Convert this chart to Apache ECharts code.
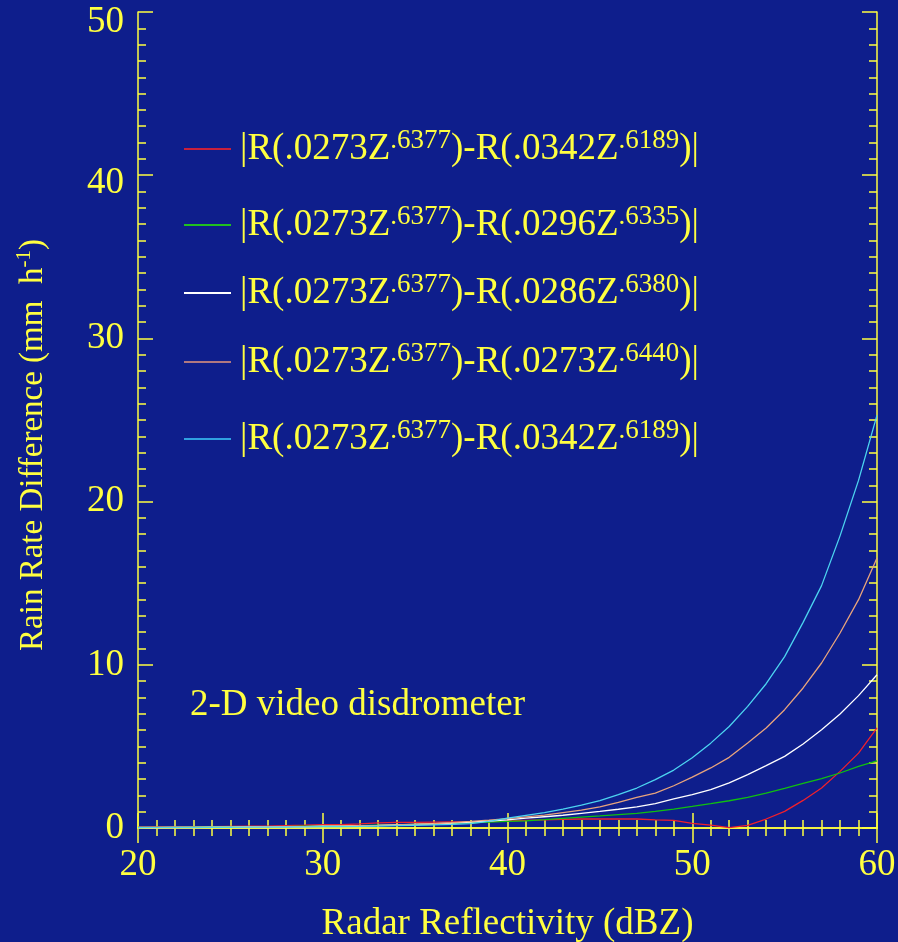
<!DOCTYPE html>
<html>
<head>
<meta charset="utf-8">
<script src="https://cdn.jsdelivr.net/npm/echarts@6/dist/echarts.min.js"></script>
<style>
html,body{margin:0;padding:0;background:#0e1e8c;}
#chart{width:898px;height:942px;}
</style>
</head>
<body>
<div id="chart"></div>
<script>
// Radar reflectivity (dBZ)
const dbz = [20,21,22,23,24,25,26,27,28,29,30,31,32,33,34,35,36,37,38,39,40,41,42,43,44,45,46,47,48,49,50,51,52,53,54,55,56,57,58,59,60];

// Rain rate differences (mm h-1)
const redDiff = [0.05,0.06,0.07,0.08,0.09,0.10,0.11,0.12,0.15,0.17,0.20,0.20,0.25,0.32,0.34,0.35,0.36,0.37,0.38,0.40,0.43,0.47,0.50,0.53,0.55,0.55,0.55,0.55,0.50,0.47,0.28,0.17,0.02,0.16,0.55,1.02,1.69,2.45,3.47,4.59,6.13];
const greenDiff = [0.03,0.04,0.04,0.05,0.06,0.06,0.07,0.08,0.09,0.11,0.12,0.13,0.15,0.17,0.19,0.22,0.25,0.28,0.32,0.36,0.40,0.44,0.51,0.59,0.67,0.74,0.82,0.90,1.02,1.16,1.32,1.49,1.67,1.88,2.14,2.43,2.73,3.02,3.37,3.77,4.12];
const whiteDiff = [0.03,0.03,0.04,0.04,0.05,0.05,0.06,0.07,0.08,0.09,0.11,0.12,0.14,0.16,0.19,0.22,0.26,0.30,0.36,0.43,0.50,0.60,0.69,0.78,0.90,1.02,1.15,1.29,1.49,1.78,2.04,2.35,2.76,3.27,3.82,4.39,5.15,6.02,6.99,8.11,9.39];
const salmonDiff = [0.02,0.02,0.03,0.03,0.04,0.04,0.05,0.06,0.07,0.08,0.10,0.12,0.14,0.16,0.19,0.23,0.27,0.33,0.40,0.48,0.57,0.68,0.79,0.94,1.09,1.29,1.57,1.88,2.14,2.59,3.12,3.68,4.33,5.21,6.13,7.25,8.58,10.11,11.95,13.99,16.54];
const cyanDiff = [0.02,0.02,0.03,0.03,0.04,0.04,0.05,0.05,0.06,0.07,0.08,0.09,0.10,0.12,0.14,0.17,0.19,0.22,0.27,0.40,0.60,0.77,0.94,1.15,1.40,1.68,2.04,2.45,2.96,3.55,4.30,5.20,6.22,7.45,8.84,10.50,12.60,14.85,17.90,21.30,25.30];

const xTicks = [20,30,40,50,60];
const yTicks = [0,10,20,30,40,50];

// Legend labels: [base, sup, base, sup, base]
const legendLabels = [
  ['|R(.0273Z','.6377',')-R(.0342Z','.6189',')|'],
  ['|R(.0273Z','.6377',')-R(.0296Z','.6335',')|'],
  ['|R(.0273Z','.6377',')-R(.0286Z','.6380',')|'],
  ['|R(.0273Z','.6377',')-R(.0273Z','.6440',')|'],
  ['|R(.0273Z','.6377',')-R(.0342Z','.6189',')|']
];
const seriesNames = ['S1','S2','S3','S4','S5'];
const seriesValues = [redDiff, greenDiff, whiteDiff, salmonDiff, cyanDiff];
const seriesColors = ['#f0202c','#10c010','#ffffff','#e8a47c','#4cd4f0'];
const legendColors = ['#c8203c','#20c020','#ffffff','#b07880','#30a0e0'];
const legendCenters = [149, 225, 293, 362, 439];

const YEL = '#ffff40';
const FONT = "'Liberation Serif','Times New Roman',serif";

const chart = echarts.init(document.getElementById('chart'), null, {renderer:'canvas'});

function axisCommon(extra){
  return Object.assign({
    type:'value',
    axisLine:{show:true, lineStyle:{color:YEL, width:1.5}},
    axisTick:{show:true, inside:true, length:15, lineStyle:{color:YEL, width:1.5}},
    minorTick:{show:true, splitNumber:10, length:8, lineStyle:{color:YEL, width:1.5}},
    splitLine:{show:false},
    minorSplitLine:{show:false}
  }, extra);
}

const richBase = {
  b:{fontSize:37, lineHeight:44, color:YEL, fontFamily:FONT},
  s:{fontSize:27, lineHeight:30, color:YEL, fontFamily:FONT, verticalAlign:'top'}
};

const legends = seriesNames.map((n,i)=>({
  data:[{name:n, itemStyle:{color:legendColors[i]}}],
  left:184,
  top:legendCenters[i]-22,
  padding:0,
  orient:'vertical',
  icon:'rect',
  itemWidth:47,
  itemHeight:2,
  selectedMode:false,
  textStyle:{color:YEL, fontFamily:FONT, padding:[0,0,0,4], rich:richBase},
  formatter:(name)=>{
    const p = legendLabels[seriesNames.indexOf(name)];
    return '{b|'+p[0]+'}{s|'+p[1]+'}{b|'+p[2]+'}{s|'+p[3]+'}{b|'+p[4]+'}';
  }
}));

const yLabelRich = {
  n:{fontSize:37, fontFamily:FONT, color:YEL},
  d8:{fontSize:37, fontFamily:FONT, color:YEL, padding:[17,0,0,0]},
  d10:{fontSize:37, fontFamily:FONT, color:YEL, padding:[20,0,0,0]}
};

const option = {
  backgroundColor:'#0e1e8c',
  animation:false,
  grid:{left:138, right:21, top:12, bottom:114, containLabel:false, outerBoundsMode:'none'},
  legend:legends,
  xAxis:[
    axisCommon({
      min:20, max:60, interval:10, position:'bottom',
      axisLabel:{show:true, color:YEL, fontSize:37, fontFamily:FONT, margin:19,
        formatter:(v)=> xTicks.includes(v) ? String(v) : ''},
      name:'Radar Reflectivity (dBZ)',
      nameLocation:'middle', nameGap:78,
      nameTextStyle:{color:YEL, fontSize:37, fontFamily:FONT}
    }),
    axisCommon({
      min:20, max:60, interval:10, position:'top',
      axisLabel:{show:false}
    })
  ],
  yAxis:[
    axisCommon({
      min:0, max:50, interval:10, position:'left',
      axisLabel:{show:true, color:YEL, fontSize:37, fontFamily:FONT, margin:14, rich:yLabelRich,
        formatter:(v)=> {
          if (!yTicks.includes(v)) return '';
          if (v === 50) return '{d10|' + v + '}';
          if (v === 40) return '{d8|' + v + '}';
          return '{n|' + v + '}';
        }},
      name:'{n|Rain Rate Difference (mm  h}{s|-1}{n|)}',
      nameLocation:'middle', nameGap:86,
      nameTextStyle:{color:YEL, fontFamily:FONT, padding:[0,50,0,0],
        rich:{
          n:{fontSize:33, lineHeight:38, color:YEL, fontFamily:FONT},
          s:{fontSize:21, lineHeight:24, color:YEL, fontFamily:FONT, verticalAlign:'top'}
        }}
    }),
    axisCommon({
      min:0, max:50, interval:10, position:'right',
      axisLabel:{show:false}
    })
  ],
  graphic:[{
    type:'text', left:190, top:687,
    style:{text:'2-D video disdrometer', fill:YEL, fontSize:37, fontFamily:FONT}
  }],
  series: seriesNames.map((n,i)=>({
    name:n, type:'line', xAxisIndex:0, yAxisIndex:0,
    showSymbol:false, symbol:'none',
    lineStyle:{color:seriesColors[i], width:1.3},
    itemStyle:{color:seriesColors[i]},
    data: dbz.map((d,k)=>[d, seriesValues[i][k]])
  }))
};
chart.setOption(option);
</script>
</body>
</html>
